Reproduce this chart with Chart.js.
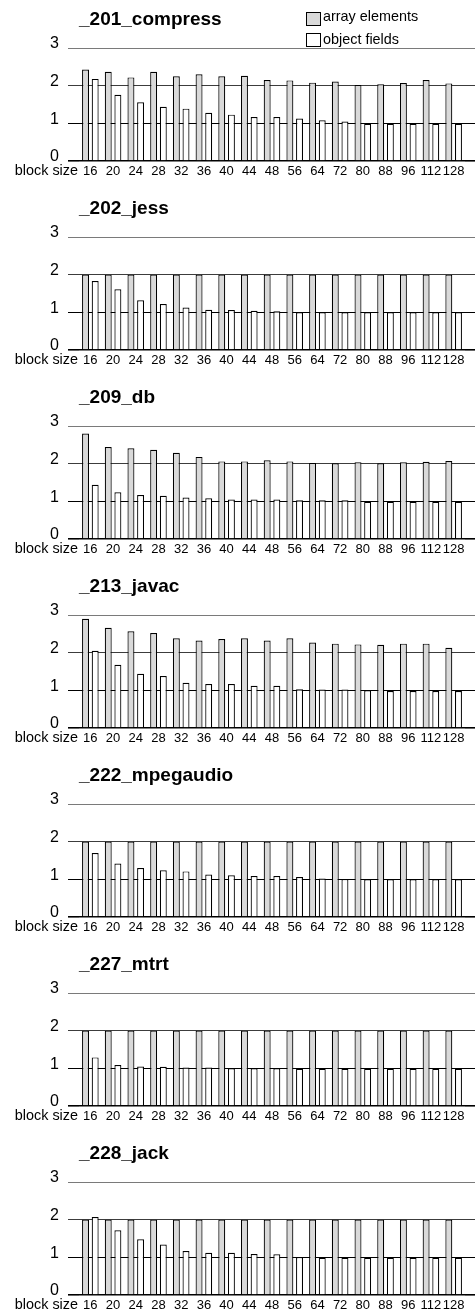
<!DOCTYPE html>
<html>
<head>
<meta charset="utf-8">
<title>Block size per benchmark</title>
<script src="https://cdn.jsdelivr.net/npm/chart.js@4.4.1/dist/chart.umd.min.js"></script>
<style>
  html, body { margin: 0; padding: 0; background: #fff; overflow: hidden; }
  .panel { position: relative; width: 475px; height: 189px; }
</style>
</head>
<body>
<div id="panels"></div>
<script>
const blockSizes = ['16', '20', '24', '28', '32', '36', '40', '44', '48', '56', '64', '72', '80', '88', '96', '112', '128'];
const yTicks = [0, 1, 2, 3];
const seriesNames = ['array elements', 'object fields'];
const xCaption = 'block size';
const benchmarks = ['_201_compress', '_202_jess', '_209_db', '_213_javac', '_222_mpegaudio', '_227_mtrt', '_228_jack'];

const compressArray = [2.43, 2.37, 2.22, 2.37, 2.25, 2.30, 2.25, 2.26, 2.15, 2.14, 2.08, 2.11, 2.02, 2.04, 2.07, 2.15, 2.06];
const compressFields = [2.18, 1.76, 1.56, 1.44, 1.39, 1.28, 1.23, 1.17, 1.17, 1.13, 1.08, 1.05, 0.99, 0.99, 0.99, 0.99, 0.99];

const jessArray = [2, 2, 2, 2, 2, 2, 2, 2, 2, 2, 2, 2, 2, 2, 2, 2, 2];
const jessFields = [1.83, 1.61, 1.32, 1.22, 1.13, 1.07, 1.06, 1.04, 1.03, 1.0, 1.0, 1.0, 1.0, 1.0, 1.0, 1.0, 1.0];

const dbArray = [2.80, 2.44, 2.41, 2.37, 2.29, 2.18, 2.06, 2.06, 2.09, 2.06, 2.02, 2.01, 2.04, 2.01, 2.04, 2.05, 2.07];
const dbFields = [1.44, 1.24, 1.17, 1.15, 1.10, 1.08, 1.05, 1.05, 1.05, 1.03, 1.03, 1.03, 0.99, 0.99, 0.99, 0.99, 0.99];

const javacArray = [2.90, 2.66, 2.57, 2.52, 2.38, 2.32, 2.36, 2.38, 2.32, 2.38, 2.27, 2.24, 2.22, 2.21, 2.24, 2.24, 2.13];
const javacFields = [2.05, 1.68, 1.44, 1.38, 1.20, 1.17, 1.17, 1.12, 1.12, 1.03, 1.02, 1.02, 1.0, 0.98, 0.98, 0.98, 0.98];

const mpegaudioArray = [2, 2, 2, 2, 2, 2, 2, 2, 2, 2, 2, 2, 2, 2, 2, 2, 2];
const mpegaudioFields = [1.70, 1.42, 1.30, 1.24, 1.21, 1.13, 1.11, 1.09, 1.09, 1.06, 1.02, 1.01, 1.0, 1.0, 1.0, 1.0, 1.0];

const mtrtArray = [2, 2, 2, 2, 2, 2, 2, 2, 2, 2, 2, 2, 2, 2, 2, 2, 2];
const mtrtFields = [1.29, 1.09, 1.05, 1.04, 1.02, 1.02, 1.0, 1.0, 1.0, 0.99, 0.99, 0.99, 0.99, 0.99, 0.99, 0.99, 0.99];

const jackArray = [2, 2, 2, 2, 2, 2, 2, 2, 2, 2, 2, 2, 2, 2, 2, 2, 2];
const jackFields = [2.07, 1.72, 1.48, 1.34, 1.17, 1.12, 1.12, 1.09, 1.08, 1.01, 0.99, 0.99, 0.99, 0.99, 0.99, 0.99, 0.99];

const panelSeries = [
  [compressArray, compressFields],
  [jessArray, jessFields],
  [dbArray, dbFields],
  [javacArray, javacFields],
  [mpegaudioArray, mpegaudioFields],
  [mtrtArray, mtrtFields],
  [jackArray, jackFields]
];

const FONT = '"Liberation Sans", Arial, Helvetica, sans-serif';
Chart.defaults.font.family = FONT;
Chart.defaults.color = '#000';

// grid shade per level, like the printed figure
function gridColor(ctx) {
  const v = ctx.tick && ctx.tick.value;
  if (v === 3) return '#7a7a7a';
  if (v === 2) return '#3c3c3c';
  return '#000';
}
function gridWidth(ctx) {
  return ctx.tick && ctx.tick.value === 0 ? 1.6 : 1;
}

// "block size" sits in the tick row, left of the first category
const captionPlugin = {
  id: 'caption',
  afterDraw(chart) {
    const { ctx, chartArea } = chart;
    ctx.save();
    ctx.font = '14.4px ' + FONT;
    ctx.fillStyle = '#000';
    ctx.textAlign = 'right';
    ctx.textBaseline = 'middle';
    ctx.fillText(xCaption, chartArea.left - 1, chartArea.bottom + 10.5);
    ctx.restore();
  }
};

// stacked legend in the top right corner of the first panel
const cornerLegend = {
  id: 'cornerLegend',
  afterDraw(chart, args, opts) {
    if (!opts.show) return;
    const ctx = chart.ctx;
    ctx.save();
    ctx.font = '14.4px ' + FONT;
    ctx.textBaseline = 'alphabetic';
    const rows = [{ box: 12.5, base: 21 }, { box: 33.5, base: 43.5 }];
    chart.data.datasets.forEach((ds, i) => {
      const r = rows[i];
      ctx.fillStyle = ds.backgroundColor;
      ctx.fillRect(306.5, r.box, 14, 13);
      ctx.strokeStyle = '#000';
      ctx.lineWidth = 1;
      ctx.strokeRect(306.5, r.box, 14, 13);
      ctx.fillStyle = '#000';
      ctx.textAlign = 'left';
      ctx.fillText(ds.label, 323, r.base);
    });
    ctx.restore();
  }
};

const host = document.getElementById('panels');

benchmarks.forEach((name, idx) => {
  const wrap = document.createElement('div');
  wrap.className = 'panel';
  const canvas = document.createElement('canvas');
  wrap.appendChild(canvas);
  host.appendChild(wrap);

  const [arr, fields] = panelSeries[idx];

  new Chart(canvas, {
    type: 'bar',
    data: {
      labels: blockSizes,
      datasets: [
        { label: seriesNames[0], data: arr, backgroundColor: '#d9d9d9', borderColor: '#000', borderWidth: 1.2,
          categoryPercentage: 0.85, barPercentage: 0.72 },
        { label: seriesNames[1], data: fields, backgroundColor: '#ffffff', borderColor: '#000', borderWidth: 1.2,
          categoryPercentage: 0.85, barPercentage: 0.72 }
      ]
    },
    options: {
      responsive: true,
      maintainAspectRatio: false,
      animation: false,
      events: [],
      devicePixelRatio: 1,
      layout: { padding: 0 },
      plugins: {
        legend: { display: false },
        tooltip: { enabled: false },
        title: {
          display: true,
          text: name,
          align: 'start',
          fullSize: false,
          color: '#000',
          font: { size: 19, weight: 'bold' },
          padding: { top: 8, bottom: 17.2 }
        },
        cornerLegend: { show: idx === 0 }
      },
      scales: {
        x: {
          grid: { display: false, drawTicks: false },
          border: { display: false },
          ticks: { autoSkip: false, maxRotation: 0, padding: 3, font: { size: 13 } },
          afterFit: s => { s.height = 28; }
        },
        y: {
          position: 'left',
          min: yTicks[0],
          max: yTicks[yTicks.length - 1],
          z: 1,
          afterBuildTicks: s => { s.ticks = yTicks.map(v => ({ value: v })); },
          grid: { color: gridColor, lineWidth: gridWidth, tickLength: 11 },
          border: { display: false },
          ticks: { padding: 9, labelOffset: -4, font: { size: 16 } },
          afterFit: s => { s.width = 79; }
        },
        yRight: {
          position: 'right',
          min: yTicks[0],
          max: yTicks[yTicks.length - 1],
          afterBuildTicks: s => { s.ticks = yTicks.map(v => ({ value: v })); },
          grid: { color: gridColor, lineWidth: gridWidth, tickLength: 10, drawOnChartArea: false },
          border: { display: false },
          ticks: { display: false },
          afterFit: s => { s.width = 10; }
        }
      }
    },
    plugins: [captionPlugin, cornerLegend]
  });
});
</script>
</body>
</html>
